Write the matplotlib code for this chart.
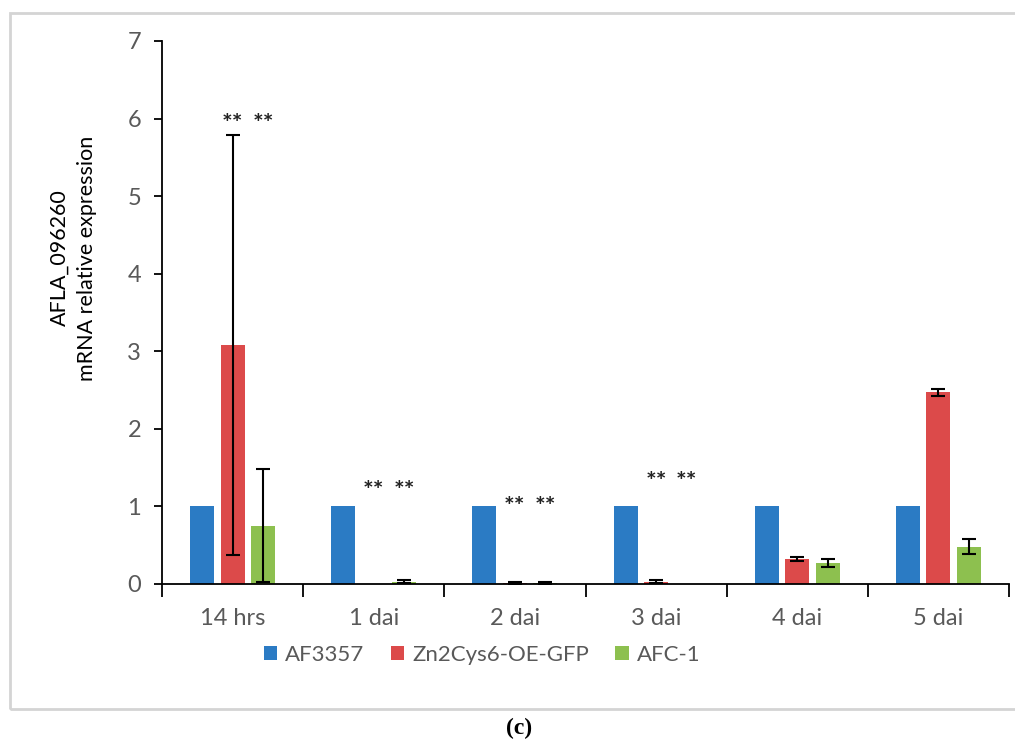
import numpy as np
import matplotlib
matplotlib.use('Agg')
from matplotlib import pyplot as plt
from matplotlib.patches import Rectangle

# 数据
categories = ['14 hrs', '1 dai', '2 dai', '3 dai', '4 dai', '5 dai']
series_names = ['AF3357', 'Zn2Cys6-OE-GFP', 'AFC-1']
af3357 = [1, 1, 1, 1, 1, 1]
zn2cys6 = [3.08, 0.0, 0.01, 0.03, 0.32, 2.47]
afc1 = [0.75, 0.03, 0.01, 0.0, 0.27, 0.48]
af3357_err = [0, 0, 0, 0, 0, 0]
zn2cys6_err = [2.71, 0.0, 0.01, 0.02, 0.026, 0.045]
afc1_err = [0.73, 0.02, 0.01, 0.0, 0.055, 0.095]
# 显著性标记 (类别序号, 柱序号, y位置)
stars = [(0, 1, 5.92), (0, 2, 5.92), (1, 1, 1.19), (1, 2, 1.19),
         (2, 1, 0.98), (2, 2, 0.98), (3, 1, 1.31), (3, 2, 1.31)]

colors = ['#2b7bc4', '#dc4a4a', '#8dc04f']
font = 'Lato'
gray = '#595959'

fig = plt.figure(figsize=(10.15, 7.42), dpi=100)
ax = fig.add_axes([162 / 1015, 1 - 584 / 742, (1009 - 162) / 1015, (584 - 41) / 742])

x = np.arange(len(categories))
width = 0.17
offset = 0.216
values = [af3357, zn2cys6, afc1]
errs = [af3357_err, zn2cys6_err, afc1_err]
for i, (vals, err) in enumerate(zip(values, errs)):
    pos = x + (i - 1) * offset
    ax.bar(pos, vals, width, color=colors[i], label=series_names[i], zorder=2)
    e = np.array(err)
    mask = e > 0
    ax.errorbar(pos[mask], np.array(vals)[mask], yerr=e[mask], fmt='none',
                ecolor='black', elinewidth=1.5, capsize=5, capthick=1.5, zorder=3)

for ci, bi, yy in stars:
    ax.text(x[ci] + (bi - 1) * offset, yy, '**', ha='center', va='center',
            fontsize=18, fontweight='bold', color='#222222', family=font)

ax.set_xlim(-0.5, len(categories) - 0.5)
ax.set_ylim(0, 7)
ax.set_yticks(range(0, 8))
ax.tick_params(axis='y', direction='out', length=6, width=1.3, labelsize=17,
               labelcolor=gray, pad=9)
ax.set_xticks(np.arange(-0.5, len(categories), 1))
ax.set_xticklabels([])
ax.tick_params(axis='x', which='major', direction='out', length=9, width=1.3)
ax.set_xticks(x, minor=True)
ax.set_xticklabels(categories, minor=True)
ax.tick_params(axis='x', which='minor', length=0, labelsize=17,
               labelcolor=gray, pad=17)
for lab in ax.get_xticklabels(minor=True) + ax.get_yticklabels():
    lab.set_family(font)

for s in ['top', 'right']:
    ax.spines[s].set_visible(False)
for s in ['left', 'bottom']:
    ax.spines[s].set_linewidth(1.3)

fig.text(73 / 1015, 1 - 258 / 742, 'AFLA_096260\nmRNA relative expression',
         rotation=90, ha='center', va='center', multialignment='center',
         fontsize=15.5, family=font, linespacing=1.45)

fig.legend(loc='center', bbox_to_anchor=(482 / 1015, 1 - 655 / 742),
           ncol=3, frameon=False, handlelength=0.6,
           handleheight=0.6, handletextpad=0.35, columnspacing=1.2,
           prop={'family': font, 'size': 16})
for t in fig.legends[0].get_texts():
    t.set_color(gray)

# 外框
fig.patches.append(Rectangle((10 / 1015, 1 - 709 / 742), 1.2, (709 - 13) / 742,
                             transform=fig.transFigure, fill=False,
                             edgecolor='#d4d4d4', linewidth=2))

fig.text(519 / 1015, 1 - 728 / 742, '(c)', ha='center', va='center',
         fontsize=17, fontweight='bold', family='Liberation Serif')

fig.savefig('out.png', dpi=100)
